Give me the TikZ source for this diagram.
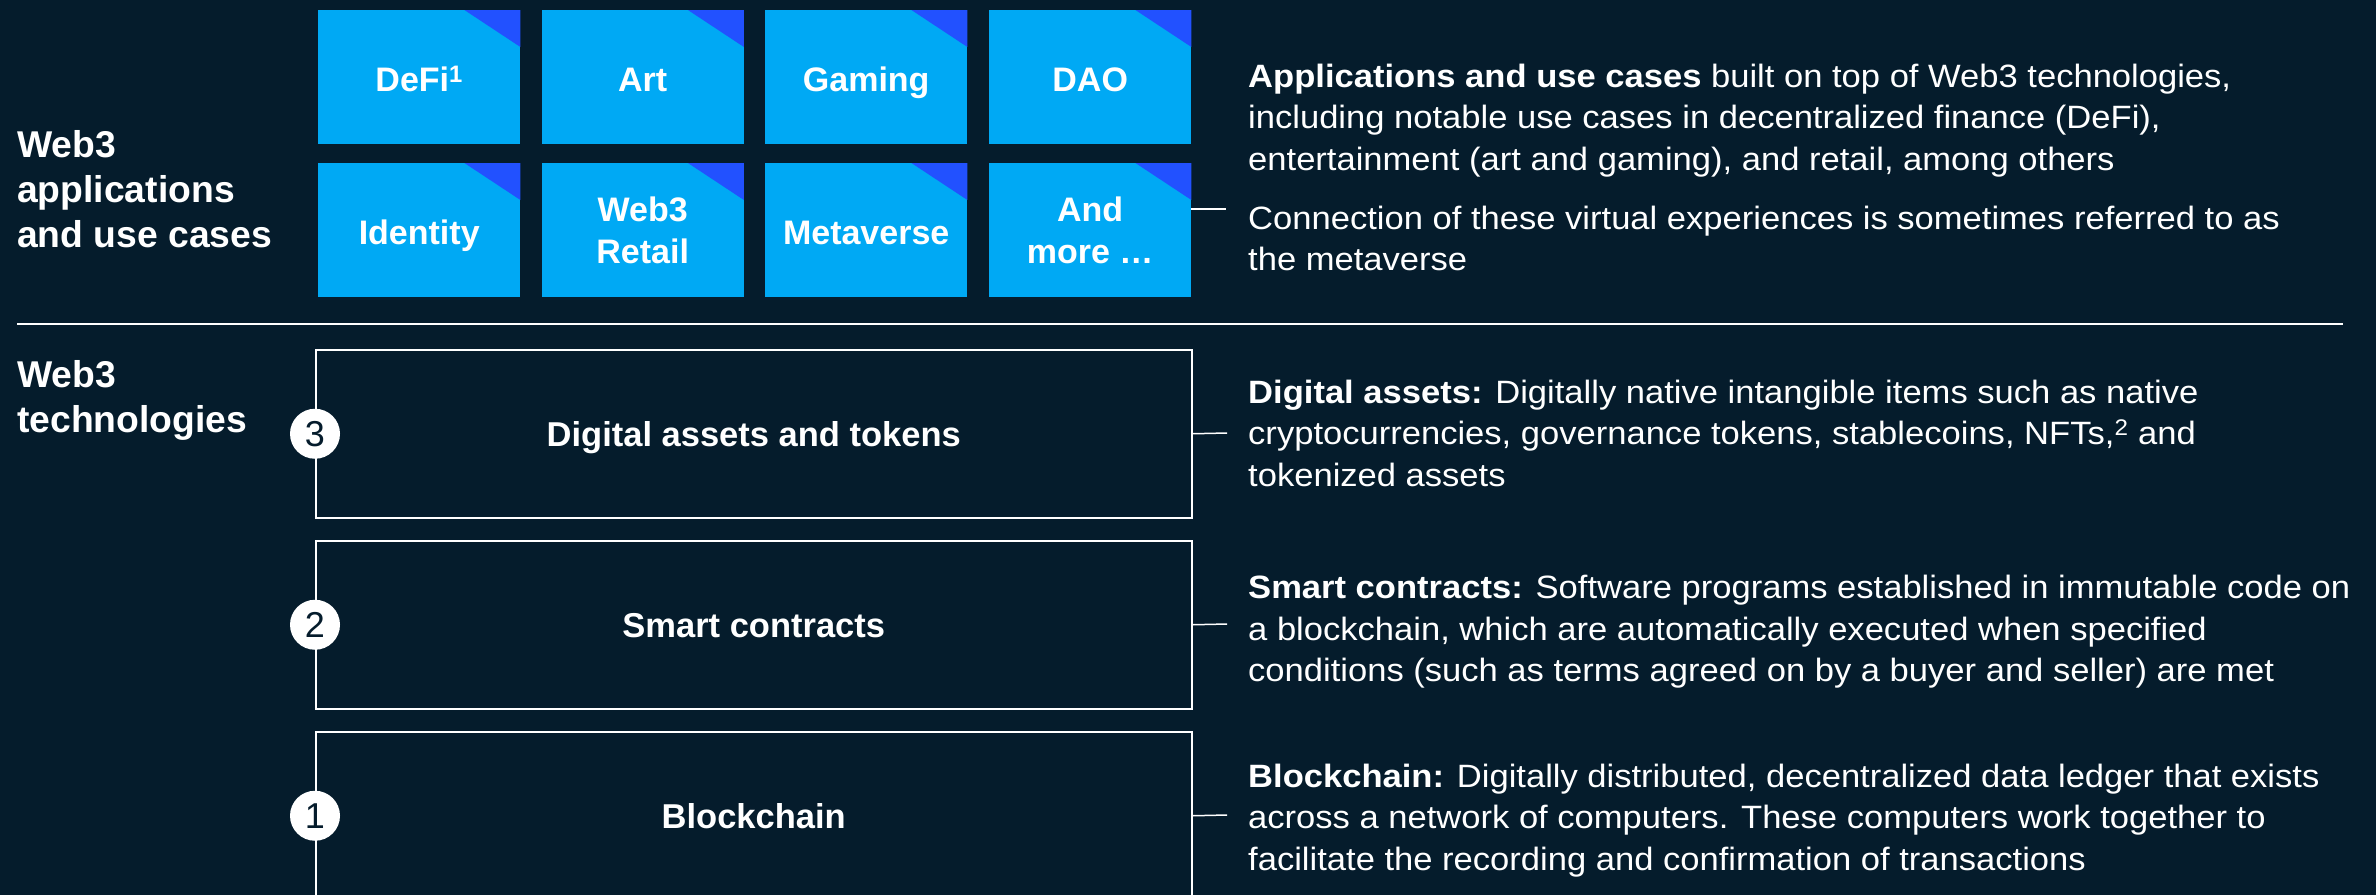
\documentclass[tikz,border=0pt]{standalone}
\usepackage{fontspec}
\setmainfont{Liberation Sans}
\newfontfamily\descfont[FakeStretch=1.07]{Liberation Sans}
\definecolor{bg}{HTML}{051C2C}
\definecolor{tileblue}{HTML}{00A9F4}
\definecolor{cornerblue}{HTML}{2251FF}
\begin{document}
\begin{tikzpicture}[x=1pt,y=-1pt,
  tile/.style={fill=tileblue, minimum width=202pt, minimum height=134pt, inner sep=0pt, anchor=north west, text=white, align=center, font=\fontsize{34}{42}\selectfont\bfseries},
  tileone/.style={tile, text height=28pt, text depth=0pt},
  techbox/.style={draw=white, line width=1.5pt, minimum width=876pt, minimum height=168pt, inner sep=0pt, anchor=north west, text=white, text height=26pt, text depth=0pt, font=\fontsize{34.5}{42}\selectfont\bfseries},
  numcirc/.style={circle, fill=white, minimum size=50pt, inner sep=0pt, text=bg, font=\fontsize{36}{36}\selectfont},
  desc/.style={anchor=north west, inner sep=0pt, text=white, align=left, font=\descfont\fontsize{32.3}{41.5}\selectfont},
  sidelabel/.style={anchor=north west, inner sep=0pt, text=white, align=left, font=\fontsize{37.3}{45}\selectfont\bfseries},
  conn/.style={draw=white, line width=1.5pt}
]
\useasboundingbox[fill=bg] (0,0) rectangle (2376,895);

% side labels
\node[sidelabel] (lapp) at (17,125.5) {\strut Web3\\applications\\and use cases};
\node[sidelabel] (ltech) at (17,355.5) {\strut Web3\\technologies};

% separator
\coordinate (sepL) at (17,324);
\coordinate (sepR) at (2343,324);
\draw[draw=white, line width=1.5pt] (sepL) -- (sepR);

% tiles
\node[tileone] (t1) at (318,10) {DeFi\textsuperscript{1}};
\node[tileone] (t2) at (541.5,10) {Art};
\node[tileone] (t3) at (765,10) {Gaming};
\node[tileone] (t4) at (989,10) {DAO};
\node[tileone] (t5) at (318,163) {Identity};
\node[tile] (t6) at (541.5,163) {Web3\\Retail};
\node[tileone] (t7) at (765,163) {Metaverse};
\node[tile] (t8) at (989,163) {And\\more \dots};
\foreach \t in {t1,t2,t3,t4,t5,t6,t7,t8}{
  \fill[cornerblue] (\t.north east) -- ++(-56,0) -- ++(56,37) -- cycle;
}

% tech boxes
\node[techbox] (b3) at (315,349) {Digital assets and tokens};
\node[techbox] (b2) at (315,540) {Smart contracts};
\node[techbox] (b1) at (315,731) {Blockchain};
\node[numcirc] (n3) at (b3.west) {3};
\node[numcirc] (n2) at (b2.west) {2};
\node[numcirc] (n1) at (b1.west) {1};

% connectors
\coordinate (capp) at (1226,209);
\draw[conn] (capp -| t8.east) -- (capp);
\coordinate (c3) at (1227,433);
\coordinate (c2) at (1227,624);
\coordinate (c1) at (1227,815);
\draw[conn] (b3.east) -- (c3);
\draw[conn] (b2.east) -- (c2);
\draw[conn] (b1.east) -- (c1);

% descriptions
\node[desc] (dapp1) at (1248,57.95) {\strut\textbf{Applications and use cases} built on top of Web3 technologies,\\including notable use cases in decentralized finance (DeFi),\\entertainment (art and gaming), and retail, among others};
\node[desc] (dapp2) at (1248,199.95) {\strut Connection of these virtual experiences is sometimes referred to as\\the metaverse};
\node[desc] (d3) at (1248,373.95) {\strut\textbf{Digital assets:} Digitally native intangible items such as native\\cryptocurrencies, governance tokens, stablecoins, NFTs,\textsuperscript{2} and\\tokenized assets};
\node[desc] (d2) at (1248,569.45) {\strut\textbf{Smart contracts:} Software programs established in immutable code on\\a blockchain, which are automatically executed when specified\\conditions (such as terms agreed on by a buyer and seller) are met};
\node[desc] (d1) at (1248,757.95) {\strut\textbf{Blockchain:} Digitally distributed, decentralized data ledger that exists\\across a network of computers. These computers work together to\\facilitate the recording and confirmation of transactions};
\end{tikzpicture}
\end{document}
